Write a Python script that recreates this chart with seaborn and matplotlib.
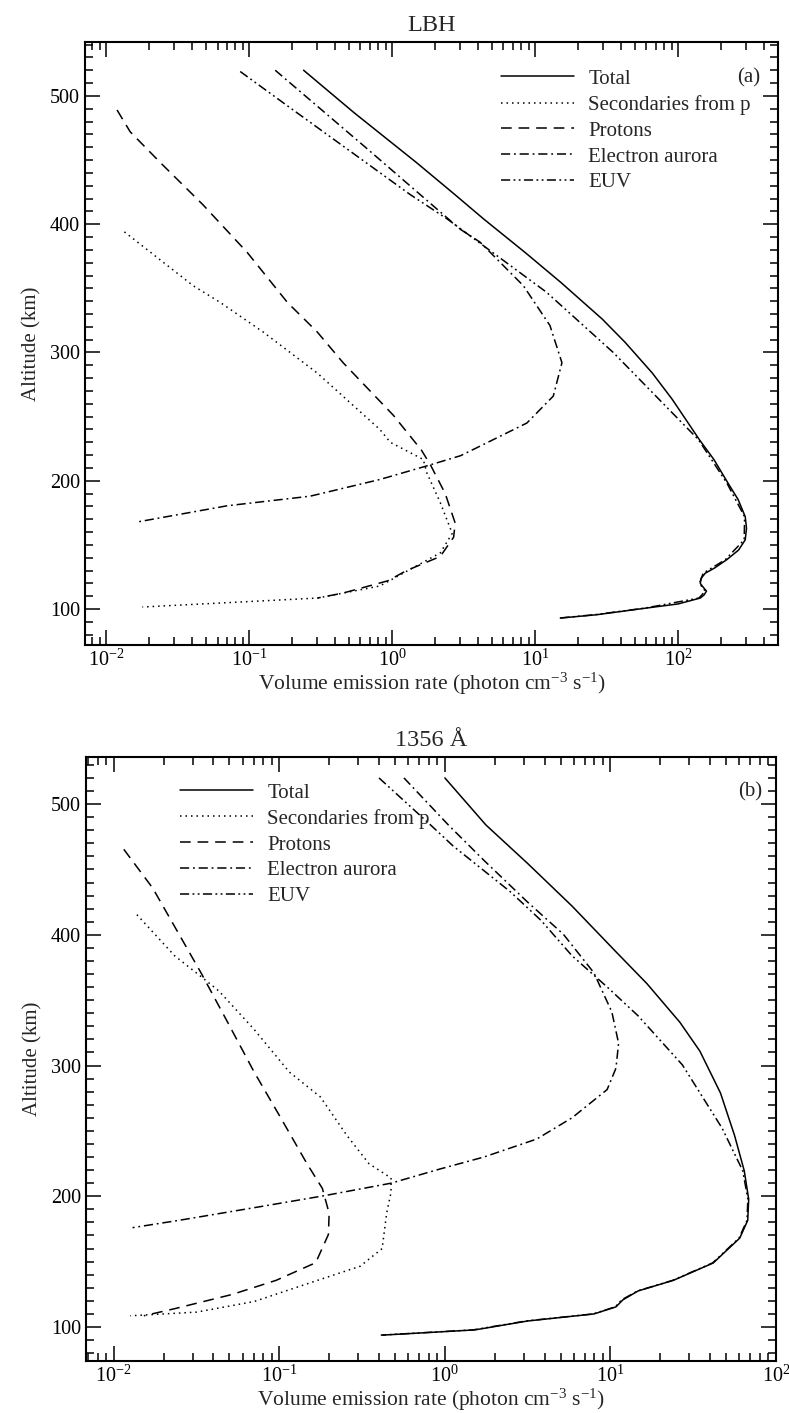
import numpy as np
import pandas as pd
import matplotlib
matplotlib.use("Agg")
import matplotlib.pyplot as plt
import seaborn as sns
from matplotlib.ticker import MultipleLocator, LogLocator, NullFormatter

# ---------------- data ----------------
series_names = ["Total", "Secondaries from p", "Protons", "Electron aurora", "EUV"]

# Panel (a): LBH
lbh_total_alt = [520, 487, 448, 423, 404, 378, 354.7, 326, 307.8, 284, 263.5, 232, 216.6, 198, 185.4, 172, 163, 154, 146, 138.5, 132, 128, 124, 120, 117, 114, 111, 108.6, 104, 100.8, 95.6, 93]
lbh_total_rate = [0.24, 0.54, 1.48, 2.75, 4.37, 8.5, 15.1, 29.5, 42.7, 66, 91, 141, 178, 224, 263, 295, 301, 295, 265, 219, 180, 155, 145, 143, 150, 158, 152, 143, 100, 60, 27, 15]

lbh_sec_alt = [394, 352, 339, 316, 284, 240, 230, 216.6, 206, 183, 159, 143.8, 118, 108.6, 101.6]
lbh_sec_rate = [0.0134, 0.0406, 0.0627, 0.125, 0.299, 0.82, 0.97, 1.65, 1.75, 2.17, 2.63, 2.17, 0.82, 0.30, 0.0179]

lbh_prot_alt = [489, 472, 448, 415, 378, 339, 316, 292, 251, 224, 212, 190, 167, 156, 141, 130, 122, 112.5, 108.6]
lbh_prot_rate = [0.0119, 0.0147, 0.0239, 0.0476, 0.0968, 0.185, 0.299, 0.454, 1.02, 1.60, 1.86, 2.35, 2.76, 2.69, 2.17, 1.26, 0.93, 0.454, 0.30]

lbh_ea_alt = [520, 459, 396, 386, 352, 321, 292, 266, 245, 227, 219.5, 211.7, 201, 188, 180.5, 168]
lbh_ea_rate = [0.152, 0.665, 3.0, 4.12, 8.28, 12.7, 15.4, 13.4, 8.75, 4.12, 3.0, 1.76, 0.82, 0.267, 0.070, 0.0167]

lbh_euv_alt = [519, 489, 423, 404, 347, 300, 232, 198, 172, 154, 138.5, 128, 120, 114, 108.6, 100.8, 95.6, 93]
lbh_euv_rate = [0.0865, 0.203, 1.34, 2.43, 12.0, 35.2, 139, 220, 292, 290, 214, 150, 141, 155, 140, 59, 26, 14.8]

# Panel (b): 1356 A
oi_total_alt = [520, 484, 454.6, 422, 387, 362.7, 333, 311, 279, 246.5, 219.5, 197.8, 181.6, 168, 149, 135.7, 127.6, 120.8, 115.4, 110, 104.6, 97.8, 93.8]
oi_total_rate = [1.0, 1.77, 3.16, 5.86, 10.8, 16.6, 26.3, 34.7, 46.2, 56.2, 64.3, 68.4, 67.5, 60.4, 41.8, 24.0, 14.7, 11.9, 10.8, 7.96, 3.16, 1.52, 0.42]

oi_sec_alt = [415.4, 384, 368, 357, 327.6, 295, 276, 246.5, 224.9, 214, 203, 187, 160, 146.5, 133, 119.5, 111.4, 108.6]
oi_sec_rate = [0.0138, 0.0233, 0.0337, 0.0432, 0.0705, 0.115, 0.177, 0.256, 0.348, 0.473, 0.473, 0.445, 0.418, 0.308, 0.147, 0.0705, 0.0317, 0.0126]

oi_prot_alt = [465.4, 435.7, 370.8, 333, 295, 260, 224.9, 206, 187, 170.8, 149.2, 135.7, 124.9, 114, 108.6]
oi_prot_rate = [0.0115, 0.0172, 0.0337, 0.0488, 0.0705, 0.102, 0.147, 0.182, 0.200, 0.198, 0.166, 0.0957, 0.0519, 0.0233, 0.0152]

oi_ea_alt = [520, 484, 457, 425, 400.5, 371, 341, 317, 298, 281.6, 260, 243.8, 230, 220.8, 210, 200.5, 192.4, 181.6, 176]
oi_ea_rate = [0.566, 1.05, 1.72, 3.16, 5.19, 7.94, 10.2, 11.2, 10.8, 9.55, 5.86, 3.59, 1.72, 0.93, 0.473, 0.188, 0.0796, 0.0248, 0.0130]

oi_euv_alt = [520, 484, 468, 433, 411, 384, 360, 338, 300.5, 252, 219.5, 197.8, 181.6, 168, 149, 135.7, 127.6, 120.8, 115.4, 110, 104.6, 97.8, 93.8]
oi_euv_rate = [0.40, 0.82, 1.12, 2.48, 3.81, 5.86, 9.57, 14.7, 27.2, 47.3, 63, 67.6, 66.8, 59.8, 41.4, 23.8, 14.6, 11.7, 10.7, 7.85, 3.09, 1.48, 0.41]

panel_titles = ["LBH", "1356 Å"]
panel_tags = ["(a)", "(b)"]


def make_df(groups):
    frames = []
    for name, (alt, rate) in zip(series_names, groups):
        frames.append(pd.DataFrame({"alt": alt, "rate": rate, "series": name}))
    return pd.concat(frames, ignore_index=True)


df_a = make_df([(lbh_total_alt, lbh_total_rate), (lbh_sec_alt, lbh_sec_rate),
                (lbh_prot_alt, lbh_prot_rate), (lbh_ea_alt, lbh_ea_rate),
                (lbh_euv_alt, lbh_euv_rate)])
df_b = make_df([(oi_total_alt, oi_total_rate), (oi_sec_alt, oi_sec_rate),
                (oi_prot_alt, oi_prot_rate), (oi_ea_alt, oi_ea_rate),
                (oi_euv_alt, oi_euv_rate)])

# ---------------- style ----------------
sns.set_theme(style="ticks")
plt.rcParams["font.family"] = ["Liberation Serif", "DejaVu Serif"]
plt.rcParams["mathtext.fontset"] = "custom"
plt.rcParams["mathtext.rm"] = "Liberation Serif"
plt.rcParams["mathtext.it"] = "Liberation Serif:italic"
plt.rcParams["mathtext.bf"] = "Liberation Serif:bold"

FS_TICK = 14.5
FS_LAB = 15.5
FS_LEG = 15
dashes = {
    "Total": "",
    "Secondaries from p": (1.0, 2.6),
    "Protons": (7, 4.5),
    "Electron aurora": (6, 2.5, 1.2, 2.5),
    "EUV": (6, 2.2, 1.2, 2.2, 1.2, 2.2),
}
palette = {n: "black" for n in series_names}

fig = plt.figure(figsize=(7.89, 14.13), dpi=100)
ax_a = fig.add_axes([85 / 789, 1 - 645 / 1413, 693 / 789, 603 / 1413])
ax_b = fig.add_axes([86 / 789, 1 - 1361 / 1413, 690 / 789, 604 / 1413])

configs = [
    (ax_a, df_a, (0.0071, 500), (72, 542), 0.60, 0.955, (0.957, 0.940)),
    (ax_b, df_b, (0.0068, 100), (74, 536), 0.136, 0.957, (0.962, 0.942)),
]

for i, (ax, df, xlim, ylim, lx, ly, tagpos) in enumerate(configs):
    ax.set_xscale("log")
    sns.lineplot(data=df, x="rate", y="alt", hue="series", style="series",
                 hue_order=series_names, style_order=series_names,
                 palette=palette, dashes=dashes, sort=False, estimator=None,
                 linewidth=1.1, legend=False, ax=ax)
    ax.set_xlim(*xlim)
    ax.set_ylim(*ylim)
    ax.yaxis.set_major_locator(MultipleLocator(100))
    ax.yaxis.set_minor_locator(MultipleLocator(10))
    ax.xaxis.set_major_locator(LogLocator(base=10, numticks=20))
    ax.xaxis.set_minor_locator(LogLocator(base=10, subs=np.arange(2, 10), numticks=20))
    ax.xaxis.set_minor_formatter(NullFormatter())
    ax.tick_params(which="both", direction="in", top=True, right=True,
                   labelsize=FS_TICK, width=1.1, colors="black")
    ax.tick_params(which="major", length=11)
    ax.tick_params(which="minor", length=5.5)
    ax.tick_params(axis="x", which="major", pad=3)
    for sp in ax.spines.values():
        sp.set_linewidth(1.5)
        sp.set_color("black")
    ax.set_xlabel("Volume emission rate (photon cm$^{-3}$ s$^{-1}$)", fontsize=FS_LAB, labelpad=0)
    ax.set_ylabel("Altitude (km)", fontsize=FS_TICK + 0.5, labelpad=6)
    ax.set_title(panel_titles[i], fontsize=17.5, pad=8)

    handles = ax.get_lines()[:len(series_names)]
    ax.legend(handles, series_names, loc="upper left", bbox_to_anchor=(lx, ly),
              frameon=False, fontsize=FS_LEG, handlelength=3.5, handletextpad=0.7,
              labelspacing=0.3, borderpad=0, borderaxespad=0)
    ax.text(tagpos[0], tagpos[1], panel_tags[i], transform=ax.transAxes,
            fontsize=FS_LEG, ha="center", va="center")

fig.savefig("out.png", dpi=100)
